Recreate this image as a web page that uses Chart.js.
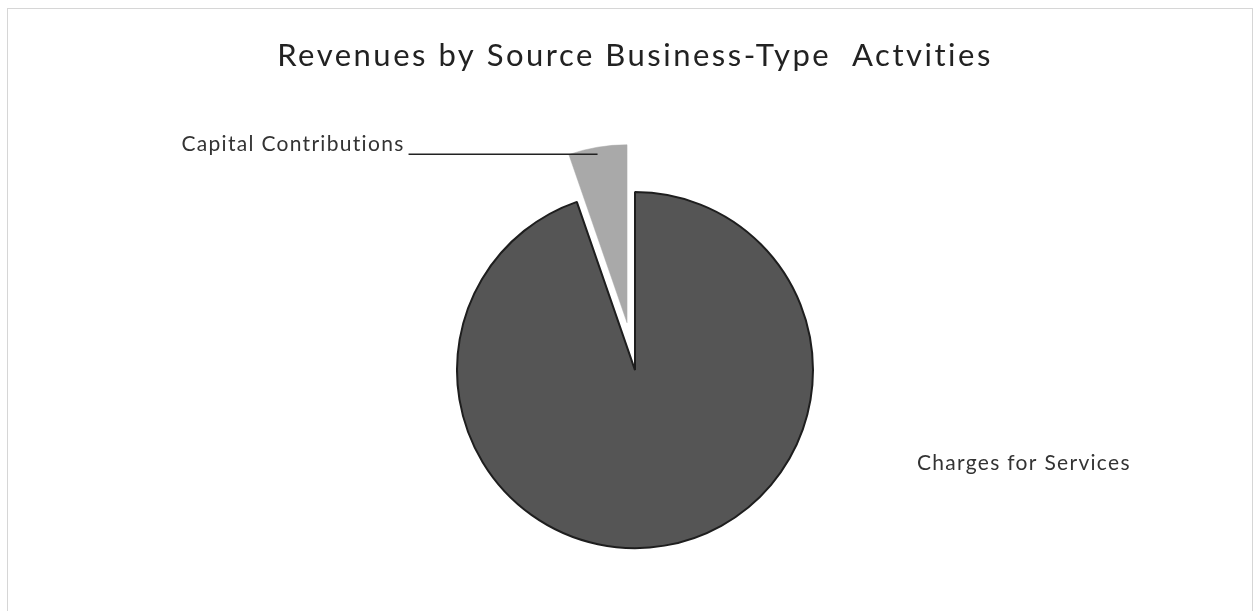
<!DOCTYPE html>
<html>
<head>
    <meta charset="UTF-8">
    <title>Revenues by Source Business-Type Actvities</title>
    <script src="https://cdn.jsdelivr.net/npm/chart.js"></script>
    <style>
        html, body { margin: 0; padding: 0; background: #fff; }
        #wrap { position: relative; width: 1259px; height: 611px; }
        #frame { position: absolute; left: 7px; top: 8px; right: 6px; bottom: -2px; border: 1px solid #d6d6d6; }
        canvas { position: absolute; left: 0; top: 0; }
    </style>
</head>
<body>
    <div id="wrap">
        <div id="frame"></div>
        <canvas id="pieChart" width="1259" height="611"></canvas>
    </div>

    <script>
        // Revenue sources, share of total (%)
        const sources = ['Charges for Services', 'Capital Contributions'];
        const shares = [94.7, 5.3];
        const sliceColors = ['#555555', '#a9a9a9'];
        const edgeColors = ['#1e1e1e', '#a9a9a9'];

        const labelFont = '21px Lato, "Noto Sans", sans-serif';

        // pulls one slice out of the pie along its bisector
        const explodePlugin = {
            id: 'explode',
            afterDatasetUpdate(chart, args, opts) {
                const arc = chart.getDatasetMeta(args.index).data[opts.index];
                if (!arc) return;
                const mid = (arc.startAngle + arc.endAngle) / 2;
                arc.x += Math.cos(mid) * opts.distance;
                arc.y += Math.sin(mid) * opts.distance;
            }
        };

        // wider tracking for the title text
        const tracking = {
            id: 'tracking',
            beforeDraw(chart) { chart.ctx.letterSpacing = '2.5px'; },
            beforeDatasetsDraw(chart) { chart.ctx.letterSpacing = '0px'; }
        };

        // category labels next to the slices, leader line for the small one
        const sliceLabels = {
            id: 'sliceLabels',
            afterDatasetsDraw(chart) {
                const ctx = chart.ctx;
                const arcs = chart.getDatasetMeta(0).data;
                ctx.save();
                ctx.font = labelFont;
                ctx.letterSpacing = '1.3px';
                ctx.fillStyle = '#333';

                // Capital Contributions: leader line runs into the exploded slice
                const cap = arcs[1];
                const mid = (cap.startAngle + cap.endAngle) / 2;
                const mx = cap.x + cap.outerRadius * Math.cos(mid);
                const my = cap.y + cap.outerRadius * Math.sin(mid);
                const lineY = my + 7;
                const lineStart = mx - 189;
                ctx.textAlign = 'right';
                ctx.textBaseline = 'alphabetic';
                ctx.fillText(sources[1], lineStart - 4, lineY - 3);
                ctx.strokeStyle = '#222';
                ctx.lineWidth = 1.5;
                ctx.beginPath();
                ctx.moveTo(lineStart, lineY);
                ctx.lineTo(mx, lineY);
                ctx.stroke();

                // Charges for Services: right side, below centre
                const main = arcs[0];
                ctx.textAlign = 'left';
                ctx.textBaseline = 'middle';
                ctx.fillText(sources[0], main.x + main.outerRadius + 104, main.y + 93);
                ctx.restore();
            }
        };

        const ctx = document.getElementById('pieChart').getContext('2d');
        new Chart(ctx, {
            type: 'pie',
            data: {
                labels: sources,
                datasets: [{
                    data: shares,
                    backgroundColor: sliceColors,
                    borderColor: edgeColors,
                    borderWidth: [2, 0.5]
                }]
            },
            options: {
                responsive: false,
                animation: false,
                radius: 178,
                layout: { padding: { left: 11 } },
                plugins: {
                    legend: { display: false },
                    tooltip: { enabled: false },
                    title: {
                        display: true,
                        text: 'Revenues by Source Business-Type  Actvities',
                        color: '#222',
                        font: { family: 'Lato, "Noto Sans", sans-serif', size: 31, weight: 'normal', lineHeight: 1.2 },
                        padding: { top: 37, bottom: 55 }
                    },
                    explode: { index: 1, distance: 48 }
                }
            },
            plugins: [explodePlugin, tracking, sliceLabels]
        });
    </script>
</body>
</html>
